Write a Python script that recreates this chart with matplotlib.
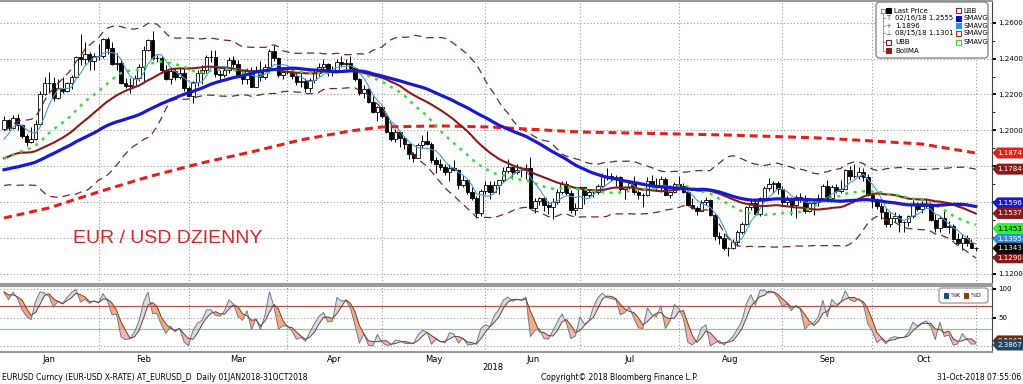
import numpy as np
import pandas as pd
import matplotlib
matplotlib.use("Agg")
import matplotlib.pyplot as plt
import matplotlib.transforms as mtransforms
from matplotlib.patches import FancyBboxPatch, Rectangle, Polygon

# ---------------- data (EURUSD daily, 02 Jan 2018 - 31 Oct 2018) ----------------
opens = [
 1.2005,1.2058,1.2015,1.2068,1.2030,1.1967,1.1936,1.1950,1.2035,1.2200,1.2263,1.2264,1.2183,1.2237,1.2220,1.2262,1.2299,1.2410,1.2396,1.2427,1.2385,1.2415,
 1.2414,1.2508,1.2460,1.2370,1.2377,1.2264,1.2250,1.2250,1.2290,1.2353,1.2450,1.2505,1.2406,1.2405,1.2335,1.2285,1.2329,1.2295,1.2317,1.2234,
 1.2193,1.2267,1.2317,1.2336,1.2409,1.2410,1.2312,1.2308,1.2336,1.2391,1.2369,1.2306,1.2287,1.2336,1.2240,1.2339,1.2300,1.2352,1.2445,1.2403,1.2310,1.2324,
 1.2324,1.2302,1.2268,1.2276,1.2238,1.2281,1.2319,1.2352,1.2369,1.2326,1.2330,1.2380,1.2372,1.2374,1.2347,1.2288,1.2210,1.2233,1.2160,1.2100,1.2130,
 1.2080,1.1993,1.1951,1.1989,1.1960,1.1925,1.1866,1.1848,1.1917,1.1943,1.1925,1.1835,1.1810,1.1795,1.1770,1.1790,1.1780,1.1695,1.1722,1.1655,1.1622,1.1538,1.1663,
 1.1693,1.1658,1.1694,1.1722,1.1774,1.1794,1.1769,1.1779,1.1777,1.1793,1.1569,1.1605,1.1624,1.1584,1.1573,1.1603,1.1655,1.1703,1.1649,1.1555,1.1570,
 1.1684,1.1642,1.1658,1.1654,1.1688,1.1746,1.1748,1.1743,1.1741,1.1671,1.1682,1.1708,1.1656,1.1640,1.1642,1.1719,1.1694,1.1685,1.1727,1.1642,1.1657,1.1703,
 1.1690,1.1659,1.1587,1.1565,1.1553,1.1600,1.1612,1.1526,1.1410,1.1403,1.1345,1.1344,1.1377,1.1436,1.1480,1.1571,1.1597,1.1536,1.1622,1.1680,1.1703,1.1707,1.1671,
 1.1601,1.1620,1.1584,1.1627,1.1624,1.1552,1.1595,1.1601,1.1626,1.1689,1.1625,1.1683,1.1664,1.1673,1.1779,1.1748,1.1747,1.1767,1.1738,1.1640,
 1.1604,1.1577,1.1546,1.1478,1.1514,1.1523,1.1488,1.1490,1.1522,1.1592,1.1561,1.1579,1.1576,1.1502,1.1454,1.1512,1.1464,1.1468,1.1392,1.1375,1.1400,1.1372,1.1347]
highs = [
 1.2081,1.2065,1.2088,1.2090,1.2035,1.1982,1.2017,1.2059,1.2219,1.2296,1.2323,1.2297,1.2287,1.2297,1.2268,1.2306,1.2416,1.2538,1.2494,1.2436,1.2430,1.2482,
 1.2516,1.2522,1.2495,1.2430,1.2400,1.2294,1.2291,1.2311,1.2370,1.2469,1.2510,1.2555,1.2422,1.2414,1.2362,1.2354,1.2347,1.2355,1.2355,1.2245,
 1.2273,1.2336,1.2365,1.2418,1.2446,1.2446,1.2335,1.2355,1.2408,1.2413,1.2394,1.2336,1.2348,1.2355,1.2358,1.2388,1.2370,1.2455,1.2476,1.2409,1.2339,1.2338,
 1.2345,1.2323,1.2320,1.2290,1.2294,1.2336,1.2378,1.2396,1.2376,1.2357,1.2396,1.2414,1.2398,1.2414,1.2356,1.2293,1.2254,1.2237,1.2190,1.2135,1.2138,
 1.2088,1.2025,1.2009,1.1998,1.1967,1.1929,1.1880,1.1931,1.1974,1.1997,1.1937,1.1849,1.1839,1.1814,1.1810,1.1836,1.1785,1.1750,1.1728,1.1683,1.1636,1.1675,1.1719,
 1.1717,1.1718,1.1723,1.1797,1.1840,1.1800,1.1810,1.1795,1.1810,1.1852,1.1624,1.1628,1.1634,1.1606,1.1625,1.1676,1.1717,1.1720,1.1670,1.1594,1.1691,
 1.1686,1.1673,1.1673,1.1699,1.1764,1.1790,1.1765,1.1750,1.1747,1.1686,1.1721,1.1745,1.1668,1.1652,1.1738,1.1750,1.1737,1.1746,1.1740,1.1658,1.1711,1.1745,
 1.1709,1.1665,1.1625,1.1578,1.1611,1.1629,1.1618,1.1537,1.1433,1.1426,1.1351,1.1394,1.1447,1.1488,1.1580,1.1623,1.1621,1.1630,1.1688,1.1733,1.1717,1.1719,1.1690,
 1.1637,1.1629,1.1641,1.1650,1.1641,1.1608,1.1620,1.1647,1.1701,1.1721,1.1697,1.1702,1.1722,1.1787,1.1803,1.1815,1.1797,1.1793,1.1756,1.1640,
 1.1622,1.1595,1.1570,1.1537,1.1547,1.1533,1.1495,1.1530,1.1610,1.1601,1.1622,1.1621,1.1580,1.1534,1.1523,1.1549,1.1496,1.1480,1.1428,1.1420,1.1415,1.1392,1.1352]
lows = [
 1.2004,1.2000,1.2008,1.2003,1.1955,1.1915,1.1929,1.1946,1.2030,1.2196,1.2214,1.2165,1.2173,1.2210,1.2212,1.2228,1.2292,1.2363,1.2372,1.2336,1.2337,1.2392,
 1.2403,1.2426,1.2367,1.2337,1.2258,1.2235,1.2206,1.2246,1.2277,1.2276,1.2445,1.2394,1.2380,1.2319,1.2279,1.2260,1.2281,1.2285,1.2222,1.2189,
 1.2155,1.2250,1.2260,1.2320,1.2382,1.2300,1.2273,1.2298,1.2320,1.2355,1.2300,1.2258,1.2260,1.2239,1.2239,1.2277,1.2288,1.2347,1.2384,1.2295,1.2285,1.2312,
 1.2286,1.2254,1.2244,1.2215,1.2216,1.2266,1.2305,1.2343,1.2302,1.2305,1.2321,1.2353,1.2342,1.2336,1.2275,1.2197,1.2183,1.2155,1.2096,1.2055,1.2071,
 1.1985,1.1939,1.1938,1.1910,1.1897,1.1838,1.1822,1.1845,1.1903,1.1918,1.1821,1.1763,1.1779,1.1750,1.1717,1.1771,1.1676,1.1685,1.1646,1.1610,1.1510,1.1523,1.1644,
 1.1618,1.1651,1.1645,1.1711,1.1765,1.1727,1.1757,1.1742,1.1727,1.1562,1.1541,1.1582,1.1553,1.1533,1.1508,1.1590,1.1648,1.1638,1.1541,1.1527,1.1569,
 1.1590,1.1624,1.1630,1.1646,1.1685,1.1724,1.1716,1.1690,1.1657,1.1615,1.1676,1.1645,1.1618,1.1575,1.1633,1.1682,1.1663,1.1658,1.1640,1.1623,1.1650,1.1686,
 1.1650,1.1576,1.1560,1.1529,1.1551,1.1585,1.1524,1.1389,1.1365,1.1335,1.1301,1.1338,1.1356,1.1425,1.1475,1.1557,1.1527,1.1521,1.1611,1.1662,1.1653,1.1647,1.1584,
 1.1577,1.1530,1.1510,1.1601,1.1538,1.1546,1.1528,1.1579,1.1605,1.1612,1.1617,1.1650,1.1651,1.1672,1.1725,1.1734,1.1729,1.1720,1.1637,1.1568,
 1.1560,1.1505,1.1463,1.1463,1.1487,1.1432,1.1431,1.1467,1.1511,1.1552,1.1540,1.1569,1.1494,1.1432,1.1433,1.1459,1.1430,1.1387,1.1364,1.1336,1.1356,1.1344,1.1330]
closes = [
 1.2058,1.2015,1.2068,1.2030,1.1967,1.1936,1.1950,1.2035,1.2200,1.2263,1.2264,1.2183,1.2237,1.2220,1.2262,1.2299,1.2410,1.2396,1.2427,1.2385,1.2415,1.2414,
 1.2508,1.2460,1.2370,1.2377,1.2264,1.2250,1.2250,1.2290,1.2353,1.2450,1.2505,1.2406,1.2405,1.2335,1.2285,1.2329,1.2295,1.2317,1.2234,1.2193,
 1.2267,1.2317,1.2336,1.2409,1.2410,1.2312,1.2308,1.2336,1.2391,1.2369,1.2306,1.2287,1.2336,1.2240,1.2339,1.2300,1.2352,1.2445,1.2403,1.2310,1.2324,1.2324,
 1.2302,1.2268,1.2276,1.2238,1.2281,1.2319,1.2352,1.2369,1.2326,1.2330,1.2380,1.2372,1.2374,1.2347,1.2288,1.2210,1.2233,1.2160,1.2100,1.2130,1.2080,
 1.1993,1.1951,1.1989,1.1960,1.1925,1.1866,1.1848,1.1917,1.1943,1.1925,1.1835,1.1810,1.1795,1.1770,1.1790,1.1780,1.1695,1.1722,1.1655,1.1622,1.1538,1.1663,1.1693,
 1.1658,1.1694,1.1722,1.1774,1.1794,1.1769,1.1779,1.1777,1.1793,1.1569,1.1605,1.1624,1.1584,1.1573,1.1603,1.1655,1.1703,1.1649,1.1555,1.1570,1.1684,
 1.1642,1.1658,1.1654,1.1688,1.1746,1.1748,1.1743,1.1741,1.1671,1.1682,1.1708,1.1656,1.1640,1.1642,1.1719,1.1694,1.1685,1.1727,1.1642,1.1657,1.1703,1.1690,
 1.1659,1.1587,1.1565,1.1553,1.1600,1.1612,1.1526,1.1410,1.1403,1.1345,1.1344,1.1377,1.1436,1.1480,1.1571,1.1597,1.1536,1.1622,1.1680,1.1703,1.1707,1.1671,1.1601,
 1.1620,1.1584,1.1627,1.1624,1.1552,1.1595,1.1601,1.1626,1.1689,1.1625,1.1683,1.1664,1.1673,1.1779,1.1748,1.1747,1.1767,1.1738,1.1640,1.1604,
 1.1577,1.1546,1.1478,1.1514,1.1523,1.1488,1.1490,1.1522,1.1592,1.1561,1.1579,1.1576,1.1502,1.1454,1.1512,1.1464,1.1468,1.1392,1.1375,1.1400,1.1372,1.1347,1.1343]

# closes before the window (20 Oct - 29 Dec 2017), used for indicator warm-up
hist_closes = [
 1.1785,1.1759,1.1762,1.1814,1.1650,1.1608,1.1648,1.1646,
 1.1623,1.1659,1.1610,1.1609,1.1584,1.1591,1.1652,1.1665,1.1663,1.1794,1.1793,1.1770,1.1795,1.1730,1.1737,1.1822,1.1849,1.1932,1.1897,1.1845,1.1846,1.1904,
 1.1895,1.1866,1.1826,1.1798,1.1774,1.1773,1.1770,1.1743,1.1826,1.1777,1.1750,1.1783,1.1838,1.1876,1.1872,1.1861,1.1863,1.1887,1.1941,1.2005]
# highs / lows of the last 15 sessions of 2017 (08 Dec - 29 Dec)
hist_highs = [1.1800,1.1816,1.1796,1.1830,1.1862,1.1792,1.1807,1.1843,1.1887,1.1889,1.1885,1.1871,1.1895,1.1946,1.2023]
hist_lows = [1.1729,1.1760,1.1718,1.1731,1.1762,1.1727,1.1749,1.1768,1.1829,1.1836,1.1838,1.1845,1.1851,1.1884,1.1940]

# 200-day SMAVG (session index, value)
sma200_idx = [0, 10, 21, 32, 44, 55, 66, 77, 84, 97, 108, 128, 150, 161, 181, 193, 204, 216]
sma200_val = [1.1512, 1.1568, 1.1657, 1.1741, 1.1819, 1.1880, 1.1947, 1.1997, 1.2019, 1.2025,
              1.2019, 1.1991, 1.1980, 1.1974, 1.1958, 1.1941, 1.1924, 1.1874]

# right-hand value tags (value, text, face, text colour) - drawing order
price_tags = [(1.1874, "1.1874", "#e3201b", "white"),
              (1.1784, "1.1784", "#8b1a1a", "white"),
              (1.1596, "1.1596", "#1a1acc", "white"),
              (1.1537, "1.1537", "#8b1a1a", "white"),
              (1.1395, "1.1395", "#2e8fe0", "white"),
              (1.1453, "1.1453", "#33ee33", "black"),
              (1.1290, "1.1290", "#8b1a1a", "white"),
              (1.1343, "1.1343", "#000000", "white")]
stoch_tags = [(9.5067, "9.5067", "#6b2e12", "white"),
              (2.3867, "2.3867", "#1f4766", "white")]

month_names = ["Jan", "Feb", "Mar", "Apr", "May", "Jun", "Jul", "Aug", "Sep", "Oct"]
price_ticks = [1.12, 1.14, 1.16, 1.18, 1.20, 1.22, 1.24, 1.26]

# ---------------- computations ----------------
dates = pd.bdate_range("2018-01-02", "2018-10-31")
n = len(closes)
x = np.arange(n)
o, h, l, c = map(np.array, (opens, highs, lows, closes))
nh = len(hist_closes)
s = pd.Series(np.r_[hist_closes, closes])
sma5 = s.rolling(5).mean().values[nh:]
sma20 = s.rolling(20).mean().values[nh:]
boll = s.rolling(30).mean().values[nh:]
sd = s.rolling(30).std(ddof=0).values[nh:]
sma50 = s.rolling(50).mean().values[nh:]
hh = pd.Series(np.r_[np.full(nh - len(hist_highs), np.nan), hist_highs, highs]).rolling(14).max()
ll = pd.Series(np.r_[np.full(nh - len(hist_lows), np.nan), hist_lows, lows]).rolling(14).min()
K = 100 * (s - ll) / (hh - ll)
D = K.rolling(3).mean()
K = K.values[nh:]
D = D.values[nh:]

# ---------------- figure ----------------
W, H = 1023, 384
fig = plt.figure(figsize=(W / 100, H / 100), dpi=100)
fig.patch.set_facecolor("white")
def fy(y):
    return 1 - y / H
ax = fig.add_axes([0, fy(284), 992 / W, fy(1) - fy(284)])
ax2 = fig.add_axes([0, fy(352), 992 / W, fy(286) - fy(352)])
ident = mtransforms.IdentityTransform()

xl = (-0.9, 219.6)
months = dates.month.values
first_idx = [int(np.argmax(months == m)) for m in range(1, 11)]
bounds = [fi - 1 for fi in first_idx] + [n - 1]
mids = [(bounds[i] + bounds[i + 1]) / 2 for i in range(10)]

for a in (ax, ax2):
    a.set_xlim(*xl)
    for b in bounds[1:]:
        a.axvline(b, color="#9a9a9a", lw=0.8, ls=(0, (1, 2)), zorder=0)
    a.spines["left"].set_visible(False)
    a.spines["right"].set_color("#444444")
    a.spines["top"].set_color("#9a9a9a")
    a.spines["bottom"].set_color("#9a9a9a")
    a.spines["top"].set_linewidth(1.5)
    a.spines["bottom"].set_linewidth(1.5)

# ---- main panel ----
ax.set_ylim(1.1144, 1.2721)
for v in price_ticks:
    ax.axhline(v, color="#9a9a9a", lw=0.8, ls=(0, (1, 2)), zorder=0)
up = c >= o
ax.vlines(x, l, h, color="black", lw=0.7, zorder=2)
ax.bar(x[up], np.maximum((c - o)[up], 0.00025), bottom=o[up], width=0.76,
       facecolor="white", edgecolor="black", lw=0.6, zorder=3)
ax.bar(x[~up], (o - c)[~up], bottom=c[~up], width=0.76,
       facecolor="black", edgecolor="black", lw=0.6, zorder=3)

ax.plot(x, sma5, color="#4a9ad8", lw=0.8, zorder=4)
ax.plot(x, boll + 2 * sd, color="#6e2a2a", lw=0.9, ls=(0, (6, 4)), zorder=4)
ax.plot(x, boll - 2 * sd, color="#6e2a2a", lw=0.9, ls=(0, (6, 4)), zorder=4)
ax.plot(sma200_idx, sma200_val, color="#e3201b", lw=2.2, ls=(0, (2.6, 1.6)), zorder=4)
ax.plot(x, boll, color="#8b1a1a", lw=1.5, zorder=5)
ax.plot(x, sma20, color="#3ad83a", lw=1.8, ls=(0, (1.2, 2.2)), zorder=5)
ax.plot(x, sma50, color="#1a1acc", lw=2.3, zorder=6)

ax.yaxis.tick_right()
ax.set_yticks(price_ticks)
ax.set_yticklabels(["%.4f" % v for v in price_ticks])
ax.set_yticks(np.arange(1.12, 1.27, 0.01), minor=True)
ax.tick_params(axis="y", which="major", direction="out", length=3, width=1.4,
               labelsize=5.1, pad=1.5, colors="black")
ax.tick_params(axis="y", which="minor", direction="out", length=2, width=0.6)
ax.set_xticks([])

# ---- lower panel ----
ax2.set_ylim(-9.8, 105.2)
for v in (0, 50, 100):
    ax2.axhline(v, color="#9a9a9a", lw=0.8, ls=(0, (1, 2)), zorder=0)
ax2.fill_between(x, K, D, where=K >= D, interpolate=True, color="#d9dce4", lw=0, zorder=1)
ax2.fill_between(x, K, D, where=K < D, interpolate=True, color="#f6a982", lw=0, zorder=1)
pk = ax2.fill_between(x, K, D, where=K < D, interpolate=True, color="#f3b3b9", lw=0, zorder=1)
pk.set_clip_path(Rectangle((-5, -30), 300, 60, transform=ax2.transData))
ax2.axhline(70, color="#c0504d", lw=0.9, zorder=2)
ax2.axhline(30, color="#7fd27f", lw=0.9, zorder=2)
ax2.plot(x, K, color="#6b7a90", lw=0.7, zorder=3)
ax2.plot(x, D, color="#7a3f22", lw=0.7, zorder=3)
ax2.yaxis.tick_right()
ax2.set_yticks([50, 100])
ax2.set_yticklabels(["50", "100"])
ax2.tick_params(axis="y", direction="out", length=3, width=1.4, labelsize=5.1, pad=1.5)
ax2.set_xticks(mids)
ax2.set_xticklabels(month_names)
ax2.tick_params(axis="x", length=0, labelsize=6, pad=2)

# ---- value tags (arrow boxes right of the axis) ----
zt = [40]
def tag(axis, v, text, fc, tc):
    yp = axis.transData.transform((0, v))[1]
    fig.patches.append(Polygon([(992.5, yp), (997.5, yp + 5.5), (1023, yp + 5.5),
                                (1023, yp - 5.5), (997.5, yp - 5.5)], closed=True,
                               transform=ident, fc=fc, ec="none", zorder=zt[0]))
    fig.text(1009.5, yp, text, transform=ident, ha="center", va="center",
             fontsize=5.1, color=tc, zorder=zt[0] + 1)
    zt[0] += 2
for v, t, fc, tc in price_tags:
    tag(ax, v, t, fc, tc)
for v, t, fc, tc in stoch_tags:
    tag(ax2, v, t, fc, tc)

# ---- annotation texts ----
fig.text(73, H - 238.5, "EUR / USD DZIENNY", transform=ident, ha="left", va="center",
         fontsize=14, color="#d7262b", family="Liberation Sans")
fig.text(493, H - 368, "2018", transform=ident, ha="center", va="center", fontsize=6)
fig.text(2, H - 378, "EURUSD Curncy (EUR-USD X-RATE) AT_EURUSD_D  Daily 01JAN2018-31OCT2018",
         transform=ident, ha="left", va="center", fontsize=5.5)
fig.text(541, H - 378, "Copyright\u00a9 2018 Bloomberg Finance L.P.", transform=ident,
         ha="left", va="center", fontsize=5.5)
fig.text(1021, H - 378, "31-Oct-2018 07:55:06", transform=ident, ha="right", va="center", fontsize=5.5)

# ---- legend box (main panel) ----
fig.patches.append(FancyBboxPatch((876, H - 58), 112, 56, boxstyle="round,pad=0,rounding_size=4",
                                  fc="white", ec="#8a8a8a", lw=1.0, transform=ident, zorder=30))
rows = [10.7, 18.3, 25.7, 33.3, 42.3, 50.7]
fs = 5
def sq(xc, yc, col, fill=True, size=5):
    fig.patches.append(Rectangle((xc - size / 2, H - yc - size / 2), size, size, transform=ident,
                                 fc=col if fill else "white", ec=col, lw=0.8, zorder=31))
fig.lines.append(plt.Line2D([882.5, 882.5], [H - 14, H - rows[5]], transform=ident,
                            color="#888888", lw=0.6, zorder=31))
for yy in rows[1:]:
    fig.lines.append(plt.Line2D([882.5, 885], [H - yy, H - yy], transform=ident,
                                color="#888888", lw=0.6, zorder=31))
sq(882.5, rows[0], "#888888", fill=False, size=4)
sq(888.5, rows[0], "black")
fig.text(894, H - rows[0], "Last Price", transform=ident, fontsize=fs, va="center", zorder=32)
for yy, sym, txt in zip(rows[1:4], ["T", "+", "\u22a5"], ["02/16/18 1.2555", "1.1896", "08/15/18 1.1301"]):
    fig.text(888.5, H - yy, sym, transform=ident, fontsize=fs, va="center", ha="center", color="#555555", zorder=32)
    fig.text(895, H - yy, txt, transform=ident, fontsize=fs, va="center", zorder=32)
sq(888.5, rows[4], "#8b1a1a", fill=False)
fig.text(895, H - rows[4], "UBB", transform=ident, fontsize=fs, va="center", zorder=32)
sq(888.5, rows[5], "#8b1a1a")
fig.text(895, H - rows[5], "BollMA", transform=ident, fontsize=fs, va="center", zorder=32)
right_icons = [("#8b1a1a", False, "LBB"), ("#0000cc", True, "SMAVG"), ("#1e90ff", True, "SMAVG"),
               ("#e3201b", False, "SMAVG"), ("#3ad83a", False, "SMAVG")]
for yy, (col, fill, txt) in zip(rows[:5], right_icons):
    sq(958, yy, col, fill=fill)
    fig.text(963.5, H - yy, txt, transform=ident, fontsize=fs, va="center", zorder=32)

# ---- legend box (stochastic panel) ----
fig.patches.append(FancyBboxPatch((939, H - 303), 49, 15, boxstyle="round,pad=0,rounding_size=3",
                                  fc="white", ec="#8a8a8a", lw=0.8, transform=ident, zorder=30))
sq(946, 295.5, "#1f4e79", size=4.5)
fig.text(951, H - 295.5, "%K", transform=ident, fontsize=4.5, va="center", zorder=32)
sq(966, 295.5, "#8b3a1a", size=4.5)
fig.text(971, H - 295.5, "%D", transform=ident, fontsize=4.5, va="center", zorder=32)

fig.savefig("out.png", dpi=100, facecolor="white")
